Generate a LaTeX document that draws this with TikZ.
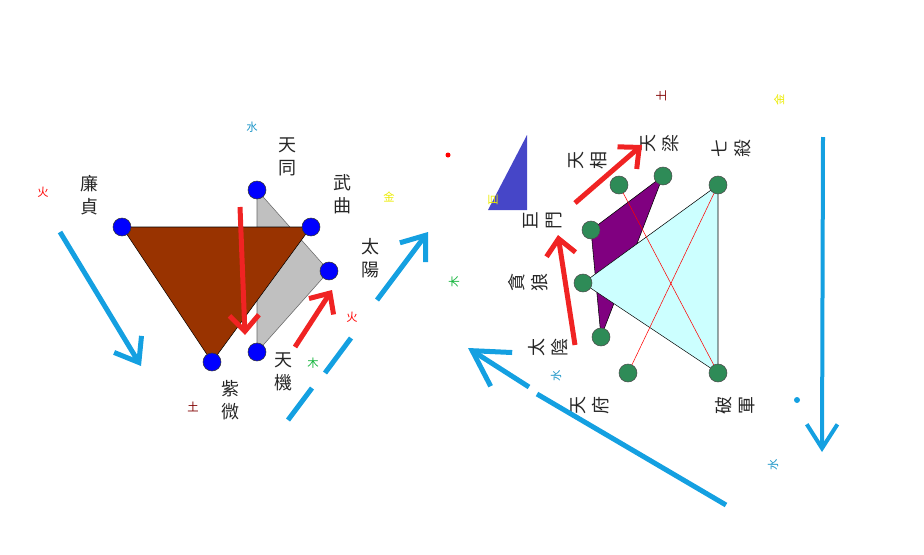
\documentclass[tikz,border=0pt]{standalone}
\usepackage{fontspec}
\newfontfamily\cjk{Noto Sans CJK TC}
\usetikzlibrary{arrows.meta}
\definecolor{brwn}{RGB}{153,51,0}
\definecolor{lgray}{RGB}{192,192,192}
\definecolor{purp}{RGB}{128,0,128}
\definecolor{lcyan}{RGB}{204,255,255}
\definecolor{seagrn}{RGB}{46,139,87}
\definecolor{skyblu}{RGB}{20,160,225}
\definecolor{redarr}{RGB}{240,35,35}
\definecolor{triblue}{RGB}{70,70,200}
\definecolor{watercol}{RGB}{30,150,200}
\definecolor{woodcol}{RGB}{20,180,60}
\definecolor{earthcol}{RGB}{128,0,0}
\definecolor{goldcol}{RGB}{235,235,0}
\begin{document}
\begin{tikzpicture}[x=0.75pt,y=-0.75pt,
		every node/.style={inner sep=0pt},
		bdot/.style={circle,draw=black!80,fill=blue,minimum size=13.5pt},
		gdot/.style={circle,draw=black!70,fill=seagrn,minimum size=13.5pt},
		lbl/.style={font=\cjk\fontsize{13.5}{17}\selectfont,align=center,text=black!85},
		elem/.style={font=\cjk\fontsize{8.5}{9}\selectfont},
		barrow/.style={draw=skyblu,line width=3.75pt,-{Straight Barb[length=16pt,width=24pt]}},
		rarrow/.style={draw=redarr,line width=3.75pt,-{Straight Barb[length=12pt,width=22pt]}}]
		\useasboundingbox (0,0) rectangle (924,554);
		
		\coordinate (tiantong) at (257,190);
		\coordinate (lianzhen) at (122,227);
		\coordinate (wuqu) at (311,227);
		\coordinate (taiyang) at (329,271);
		\coordinate (tianji) at (257,352);
		\coordinate (ziwei) at (212,362);
		
		\filldraw[fill=lgray,draw=black!60] (tiantong) -- (taiyang) -- (tianji) -- cycle;
		\filldraw[fill=brwn,draw=black] (lianzhen) -- (wuqu) -- (ziwei) -- cycle;
		\foreach \p in {tiantong,lianzhen,wuqu,taiyang,tianji,ziwei}
			\node[bdot] (d-\p) at (\p) {};
		
		\node[lbl] (l-tiantong) at (287,157) {天\\同};
		\node[lbl] (l-lianzhen) at (89,195) {廉\\貞};
		\node[lbl] (l-wuqu) at (342,194) {武\\曲};
		\node[lbl] (l-taiyang) at (370,258) {太\\陽};
		\node[lbl] (l-tianji) at (283,372) {天\\機};
		\node[lbl] (l-ziwei) at (230,400) {紫\\微};
		
		\node[elem,text=watercol] (e1) at (252,127) {水};
		\node[elem,text=red] (e2) at (43,192) {火};
		\node[elem,text=goldcol] (e3) at (389,197) {金};
		\node[elem,text=red] (e4) at (352,317) {火};
		\node[elem,text=woodcol] (e5) at (313,363) {木};
		\node[elem,text=earthcol] (e6) at (193,407) {土};
		\fill[red] (448,155) circle (2.5);
		
		\draw[barrow] (60,232) -- (141,366);
		\draw[skyblu,line width=3.75pt] (288,420) -- (312,388);
		\draw[skyblu,line width=3.75pt] (325,373) -- (351,338);
		\draw[barrow] (377,300) -- (428,232);
		\draw[rarrow] (240,207) -- (245,335);
		\draw[rarrow] (295,347) -- (332,290);
		
		\coordinate (tianxiang) at (619,185);
		\coordinate (tianliang) at (663,176);
		\coordinate (qisha) at (718,185);
		\coordinate (jumen) at (591,230);
		\coordinate (tanlang) at (583,283);
		\coordinate (taiyin) at (601,337);
		\coordinate (tianfu) at (628,373);
		\coordinate (pojun) at (718,373);
		
		\fill[triblue] (488,210) -- (527,135) -- (527,210) -- cycle;
		\node[elem,text=goldcol,rotate=90] (e7) at (493,200) {巨};
		
		\filldraw[fill=purp,draw=black] (jumen) -- (tianliang) -- (taiyin) -- cycle;
		\filldraw[fill=lcyan,draw=black] (tanlang) -- (qisha) -- (pojun) -- cycle;
		\draw[red] (tianxiang) -- (pojun);
		\draw[red] (tianfu) -- (qisha);
		\foreach \p in {tianxiang,tianliang,qisha,jumen,tanlang,taiyin,tianfu,pojun}
			\node[gdot] (d-\p) at (\p) {};
		
		\node[lbl,rotate=90] (l-tianxiang) at (588,160) {天\\相};
		\node[lbl,rotate=90] (l-tianliang) at (660,143) {天\\梁};
		\node[lbl,rotate=90] (l-qisha) at (731,148) {七\\殺};
		\node[lbl,rotate=90] (l-jumen) at (543,220) {巨\\門};
		\node[lbl,rotate=90] (l-tanlang) at (528,282) {貪\\狼};
		\node[lbl,rotate=90] (l-taiyin) at (548,347) {太\\陰};
		\node[lbl,rotate=90] (l-tianfu) at (590,405) {天\\府};
		\node[lbl,rotate=90] (l-pojun) at (735,405) {破\\軍};
		
		\node[elem,text=earthcol,rotate=90] (e8) at (661,96) {土};
		\node[elem,text=goldcol,rotate=90] (e9) at (779,100) {金};
		\node[elem,text=woodcol,rotate=90] (e10) at (454,282) {木};
		\node[elem,text=watercol,rotate=90] (e11) at (556,376) {水};
		\node[elem,text=watercol,rotate=90] (e12) at (773,465) {水};
		\fill[skyblu] (797,400) circle (3);
		
		\draw[rarrow] (575,203) -- (642,145);
		\draw[rarrow] (575,345) -- (558,235);
		\draw[skyblu,line width=3pt,-{Straight Barb[length=18pt,width=23pt]}] (823,137) -- (822,452);
		\draw[skyblu,line width=3.75pt] (726,505) -- (537,394);
		\draw[skyblu,line width=3.75pt,-{Straight Barb[length=26pt,width=30pt]}] (529,387) -- (468,348);
\end{tikzpicture}
\end{document}
